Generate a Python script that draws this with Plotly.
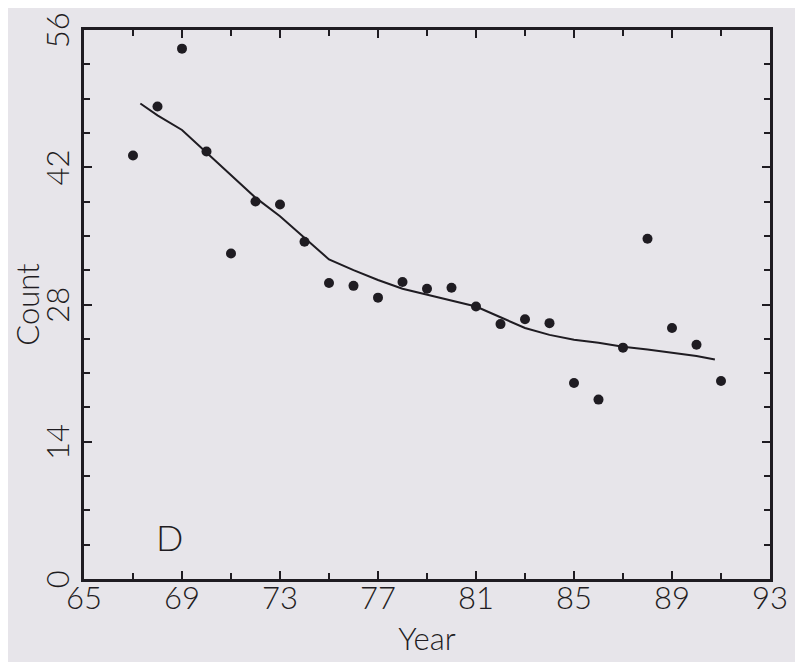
import plotly.graph_objects as go

# Observed counts
years = [67, 68, 69, 70, 71, 72, 73, 74, 75, 76, 77, 78, 79, 80, 81, 82, 83, 84, 85, 86, 87, 88, 89, 90, 91]
counts = [43.2, 48.2, 54.1, 43.6, 33.2, 38.5, 38.2, 34.4, 30.2, 29.9, 28.7, 30.3, 29.6, 29.7, 27.8,
          26.0, 26.5, 26.1, 20.0, 18.3, 23.6, 34.7, 25.6, 23.9, 20.2]

# Smoothed trend line
trend_years = [67.3, 68, 69, 70, 71, 72, 73, 74, 75, 76, 77, 78, 79, 80, 81, 82, 83, 84, 85, 86, 87, 88, 89, 90, 90.75]
trend_counts = [48.5, 47.3, 45.8, 43.5, 41.2, 38.9, 37.0, 34.8, 32.6, 31.5, 30.5, 29.6, 29.0, 28.4, 27.8,
                26.7, 25.6, 24.9, 24.4, 24.1, 23.7, 23.4, 23.1, 22.75, 22.4]

x_ticks = [65, 69, 73, 77, 81, 85, 89, 93]
y_ticks = [0, 14, 28, 42, 56]

bg = "#e7e5ea"
ink = "#1f1c22"
font = dict(family="Lato, 'DejaVu Sans', sans-serif", size=31, color=ink, weight=300)

fig = go.Figure()
fig.add_trace(go.Scatter(x=trend_years, y=trend_counts, mode="lines",
                         line=dict(color=ink, width=2), showlegend=False))
fig.add_trace(go.Scatter(x=years, y=counts, mode="markers",
                         marker=dict(color=ink, size=10), showlegend=False))

fig.add_annotation(x=68.5, y=4.3, text="D", showarrow=False,
                   font=dict(family=font["family"], size=36, color=ink, weight=300))

axis_common = dict(showgrid=False, zeroline=False, showline=True, linecolor=ink, linewidth=3,
                   mirror="allticks", ticks="inside", ticklen=8, tickwidth=2, tickcolor=ink,
                   tickfont=font, automargin=False, ticklabeloverflow="allow")

fig.update_xaxes(range=[65, 93], tickvals=x_ticks, ticktext=[str(v) for v in x_ticks],
                 minor=dict(dtick=2, tick0=65, ticks="inside", ticklen=6, tickwidth=2, tickcolor=ink),
                 title=dict(text="Year", font=font, standoff=14), ticklabelstandoff=-10,
                 **axis_common)
fig.update_yaxes(range=[0, 56], tickvals=y_ticks, ticktext=[str(v) for v in y_ticks], tickangle=-90,
                 minor=dict(dtick=3.5, tick0=0, ticks="inside", ticklen=6, tickwidth=2, tickcolor=ink),
                 title=dict(text="Count", font=font, standoff=10), ticklabelstandoff=0,
                 ticklabelshift=5,
                 **axis_common)

# The page body adds an 8px offset, so the figure is sized to fit the window.
fig.update_layout(width=795, height=654, paper_bgcolor=bg, plot_bgcolor=bg,
                  margin=dict(l=76, r=33, t=22, b=83), font=font)

fig.write_html("out.html")
